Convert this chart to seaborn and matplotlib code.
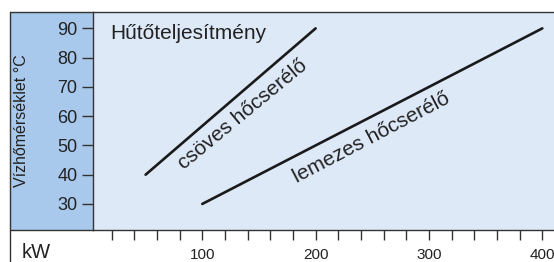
import pandas as pd
import matplotlib
matplotlib.use("Agg")
import matplotlib.pyplot as plt
from matplotlib.patches import Rectangle
from matplotlib.lines import Line2D
import seaborn as sns

# chart values
csoves_kw = [50, 200]
csoves_temp = [40, 90]
lemezes_kw = [100, 400]
lemezes_temp = [30, 90]
x_labels = [100, 200, 300, 400]
y_labels = [30, 40, 50, 60, 70, 80, 90]

df = pd.concat([
    pd.DataFrame({"kW": csoves_kw, "temp": csoves_temp, "type": "csöves hőcserélő"}),
    pd.DataFrame({"kW": lemezes_kw, "temp": lemezes_temp, "type": "lemezes hőcserélő"}),
])

sns.set_theme(style="white")
plt.rcParams["font.family"] = ["Liberation Sans", "DejaVu Sans"]

dark_blue = "#a8c9ec"
light_blue = "#dee9f8"
frame = "#333333"
text_col = "#222222"

W, H = 554, 262
fig = plt.figure(figsize=(W / 100, H / 100), dpi=100)
fig.patch.set_facecolor("white")

# main plotting area (light blue)
ax = fig.add_axes([93 / W, 32 / H, (W - 93) / W, 218 / H])
ax.set_facecolor(light_blue)

# darker panel behind the y tick labels (drawn below the axes)
fig.patches.append(Rectangle((10 / W, 32 / H), 83 / W, 218 / H,
                             transform=fig.transFigure, facecolor=dark_blue,
                             edgecolor="none", zorder=-1))

sns.lineplot(data=df, x="kW", y="temp", units="type", estimator=None,
             color="#1a1a1a", linewidth=1.9, ax=ax, legend=False)

ax.set_xlim(3.6, 410.3)
ax.set_ylim(21.1, 95.6)

ax.set_xticks(range(20, 401, 20))
ax.set_xticklabels([str(v) if v in x_labels else "" for v in range(20, 401, 20)])
ax.set_yticks(y_labels)
ax.set_yticklabels([str(v) for v in y_labels])
ax.tick_params(axis="x", direction="out", length=7.2, width=1, color=frame,
               pad=6, labelsize=11, labelcolor=text_col, bottom=True)
ax.tick_params(axis="y", direction="out", length=7.9, width=1, color=frame,
               pad=3.2, labelsize=13, labelcolor=text_col, left=True)
ax.set_xlabel("")
ax.set_ylabel("")

for side in ["top", "right"]:
    ax.spines[side].set_visible(False)
for side in ["left", "bottom"]:
    ax.spines[side].set_color(frame)
    ax.spines[side].set_linewidth(1)

# outer frame lines
fig.lines.append(Line2D([10 / W, 1], [250 / H, 250 / H], transform=fig.transFigure,
                        color=frame, linewidth=1))
fig.lines.append(Line2D([10 / W, 10 / W], [0, 250 / H], transform=fig.transFigure,
                        color=frame, linewidth=1))
fig.lines.append(Line2D([10 / W, 93 / W], [32 / H, 32 / H], transform=fig.transFigure,
                        color=frame, linewidth=1))

ax.text(19.2, 88.4, "Hűtőteljesítmény", ha="left", va="center",
        fontsize=15, color=text_col)
ax.text(135.9, 60.4, "csöves hőcserélő", ha="center", va="center",
        rotation=39.5, rotation_mode="anchor", fontsize=15, color=text_col)
ax.text(249.7, 52.5, "lemezes hőcserélő", ha="center", va="center",
        rotation=27.7, rotation_mode="anchor", fontsize=15, color=text_col)

fig.text(22 / W, 1 - 121 / H, "Vízhőmérséklet °C", rotation=90,
         ha="center", va="center", fontsize=11.5, color=text_col)
fig.text(22 / W, 0.5 / H, "kW", ha="left", va="bottom",
         fontsize=14.5, color=text_col)

fig.savefig("out.png", dpi=100)
